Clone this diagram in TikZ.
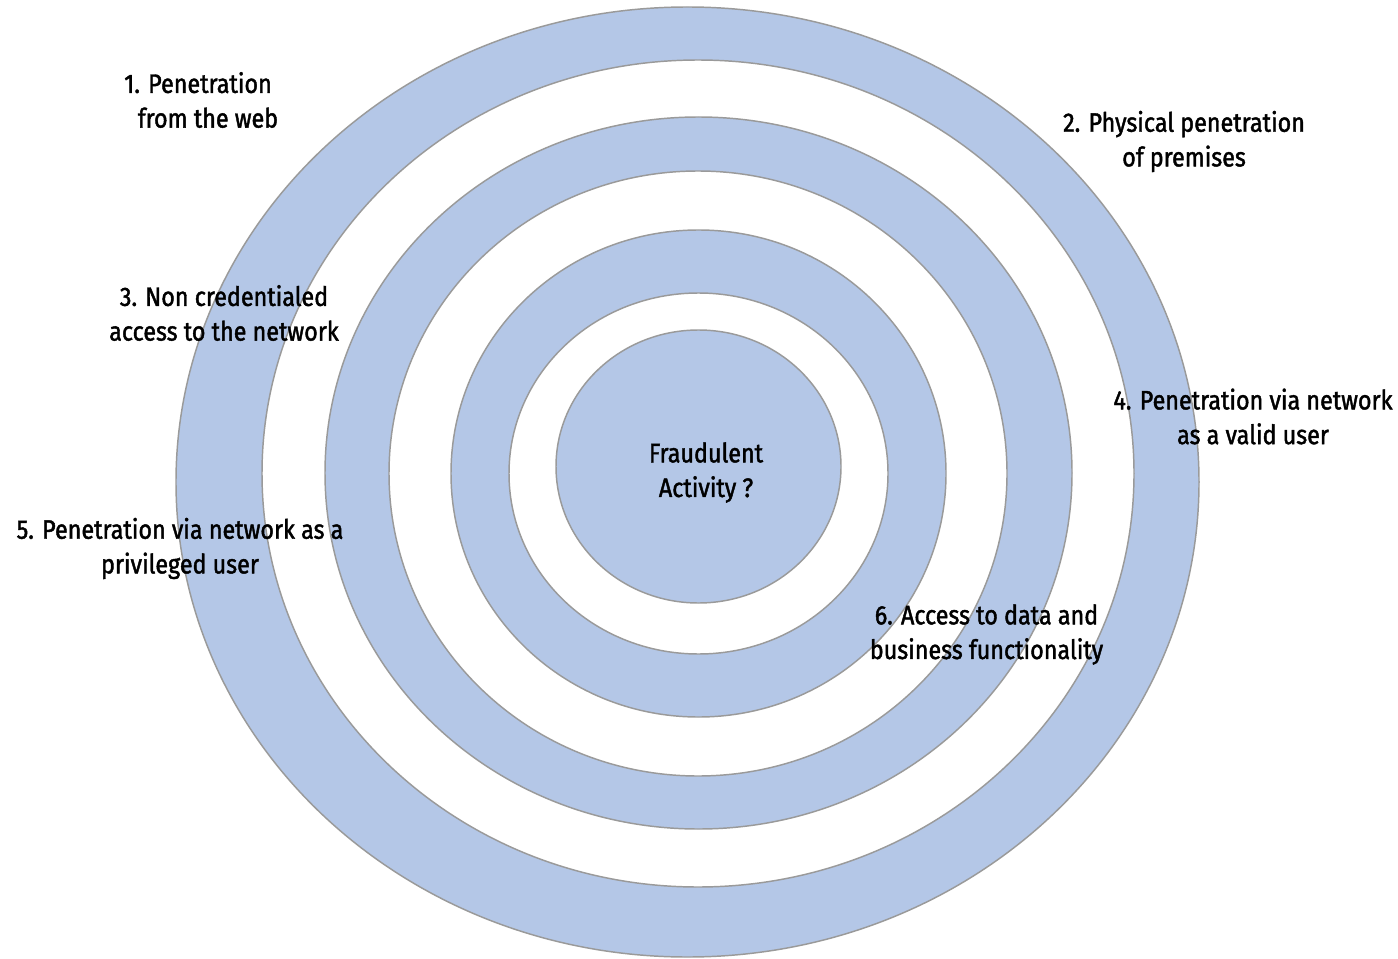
\documentclass[tikz,border=0pt]{standalone}
\usepackage{fontspec}
\setmainfont{Fira Sans}[FakeStretch=0.875, FakeBold=1.6]
\usetikzlibrary{shapes.geometric}
\definecolor{ringblue}{HTML}{B4C7E7}
\definecolor{ringline}{HTML}{9A9A9A}
\begin{document}
\begin{tikzpicture}[x=0.75pt,y=-0.75pt,
  ring/.style={draw=ringline,line width=1.1pt,fill=ringblue},
  hole/.style={draw=ringline,line width=1.1pt,fill=white},
  lbl/.style={font=\fontsize{20}{26}\selectfont, align=center, inner sep=0pt, text=black}]
\useasboundingbox (0,0) rectangle (1398,959);
\fill[white] (0,0) rectangle (1398,959);
% ring 1
\draw[ring] (687.5,482) ellipse [x radius=511.5, y radius=475];
\draw[hole] (698,473.5) ellipse [x radius=436, y radius=413.5];
% ring 2
\draw[ring] (698.5,473) ellipse [x radius=373.5, y radius=356];
\draw[hole] (698,473.5) ellipse [x radius=309, y radius=302.5];
% ring 3
\draw[ring] (698.5,473.5) ellipse [x radius=247.5, y radius=243.5];
\draw[hole] (698.5,473.5) ellipse [x radius=189.5, y radius=180.5];
% core
\node[ring, ellipse, minimum width=213.75pt, minimum height=204.75pt, inner sep=0pt] (core) at (698.5,466.5) {};
\node[lbl] (coretext) at (706,472.5) {Fraudulent\\Activity ?};
\node[lbl] (l1) at (208,100) {1. Penetration\hspace*{15pt}\\from the web};
\node[lbl] (l2) at (1184,141.5) {2. Physical penetration\\of premises};
\node[lbl] (l3) at (224,313) {3. Non credentialed\\access to the network};
\node[lbl] (l4) at (1253,416.5) {4. Penetration via network\\as a valid user};
\node[lbl] (l5) at (180,548.5) {5. Penetration via network as a\\privileged user};
\node[lbl] (l6) at (986.5,634.5) {6. Access to data and\\business functionality};
\end{tikzpicture}
\end{document}
